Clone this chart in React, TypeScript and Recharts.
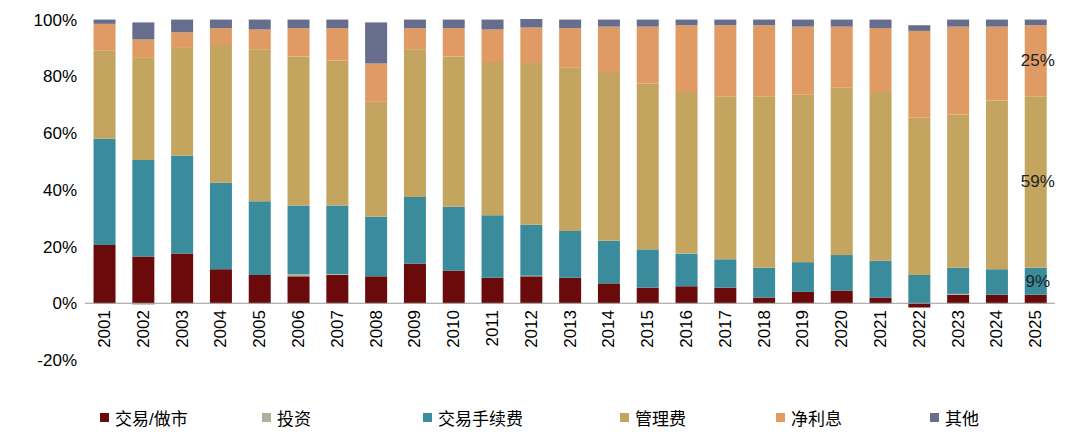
import React from 'react';
import { BarChart, Bar, XAxis, YAxis, ReferenceLine, LabelList } from 'recharts';

const years = ['2001','2002','2003','2004','2005','2006','2007','2008','2009','2010','2011','2012','2013','2014','2015','2016','2017','2018','2019','2020','2021','2022','2023','2024','2025'];
const trading = [20.5,16.5,17.5,12,10,9.5,10,9.5,14,11.5,9,9.5,9,7,5.5,6,5.5,2,4,4.5,2,-1.5,3,3,3];
const invest = [0,-0.5,0,0,0,0.8,0.3,0,0,0,0,0.2,0,0,0,0,0,0,0,0,0,0,0.3,0,0];
const fees = [37.5,34,34.5,30.5,26,24.2,24.2,21,23.5,22.5,22,18,16.5,15,13.5,11.5,10,10.5,10.5,12.5,13,10,9.2,9,9.5];
const mgmt = [31,36,38,48.5,53.5,52.5,51,40.5,52,53,54,57,57.5,59.5,58.5,57,57.5,60.5,59,59,59.5,55.5,54,59.5,60.5];
const interest = [9.5,6.5,5.5,6,7,10,11.5,13.5,7.5,10,11.5,12.5,14,16,20,23.5,25,25,24,21.5,22.5,30.5,31,26,25];
const other = [1.5,6,4.5,3,3.5,3,3,14.5,3,3,3.5,3,3,2.5,2.5,2,2,2,2.5,2.5,3,2,2.5,2.5,2];
const yTicks = [-20,0,20,40,60,80,100];
const endLabels = { fees: '9%', mgmt: '59%', interest: '25%' };

const data = years.map((y, i) => ({ year: y, trading: trading[i], invest: invest[i], fees: fees[i], mgmt: mgmt[i], interest: interest[i], other: other[i] }));

const series = [
  { key: 'trading', name: '交易/做市', color: '#6B0A0A' },
  { key: 'invest', name: '投资', color: '#A9B39A' },
  { key: 'fees', name: '交易手续费', color: '#3A8C9C' },
  { key: 'mgmt', name: '管理费', color: '#C4A560' },
  { key: 'interest', name: '净利息', color: '#E09A63' },
  { key: 'other', name: '其他', color: '#676D8C' },
];

const font = 'Arial, "Liberation Sans", "Noto Sans CJK SC", sans-serif';

const XTick = (props: any) => {
  const { x, y, payload } = props;
  const yy = 310;
  return (
    <text x={x} y={yy} transform={`rotate(-90 ${x} ${yy})`} textAnchor="end" dominantBaseline="central" fontSize={17} fill="#000" fontFamily={font}>
      {payload.value}
    </text>
  );
};

const mkLabel = (txt: string) => (props: any) => {
  const { x, y, width, height, index } = props;
  if (index !== years.length - 1) return null;
  return (
    <text x={x + width / 2 + 2} y={y + height / 2} textAnchor="middle" dominantBaseline="central" fontSize={17} fill="#222" fontFamily={font}>
      {txt}
    </text>
  );
};

const legendX = [100, 262, 423, 620, 776, 930];

export default function App() {
  return (
    <div style={{ position: 'absolute', left: 0, top: 0, width: 1080, height: 442, background: '#fff' }}>
      <BarChart width={1080} height={442} data={data} stackOffset="sign" barCategoryGap="22%"
        margin={{ top: 19, right: 25, bottom: 52, left: 5 }}>
        <XAxis dataKey="year" axisLine={false} tickLine={false} tick={<XTick />} height={30} interval={0} />
        <YAxis domain={[-20, 100]} ticks={yTicks} tickFormatter={(v: number) => `${v}%`} axisLine={false} tickLine={false}
          width={80} tick={{ fontSize: 17, fill: '#000', fontFamily: font }} />
        {series.map(s => (
          <Bar key={s.key} dataKey={s.key} name={s.name} stackId="a" fill={s.color} isAnimationActive={false}>
            {(endLabels as any)[s.key] && <LabelList content={mkLabel((endLabels as any)[s.key])} />}
          </Bar>
        ))}
        <ReferenceLine y={0} stroke="#999" strokeWidth={1} />
      </BarChart>
      <div style={{ position: 'absolute', top: 405, left: 0, width: 1080, height: 24, fontFamily: font, fontSize: 17 }}>
        {series.map((s, i) => (
          <div key={s.key} style={{ position: 'absolute', left: legendX[i], top: 0, display: 'flex', alignItems: 'center' }}>
            <span style={{ display: 'inline-block', width: 9, height: 9, background: s.color, marginRight: 6 }} />
            <span>{s.name}</span>
          </div>
        ))}
      </div>
    </div>
  );
}
